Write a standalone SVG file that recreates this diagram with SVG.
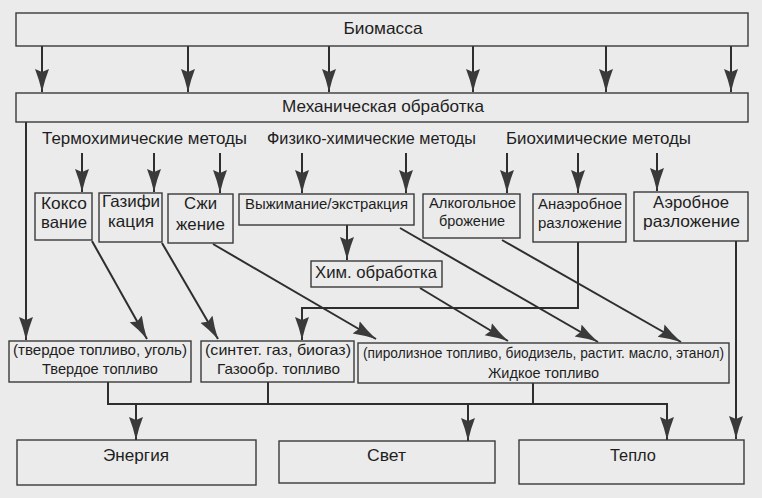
<svg xmlns="http://www.w3.org/2000/svg" width="762" height="498" viewBox="0 0 762 498">
<style>
.box{fill:none;stroke:#3a3a3a;stroke-width:1.4}
.ln{fill:none;stroke:#2e2e2e;stroke-width:2}
.ar{marker-end:url(#arr)}
text{font-family:"Liberation Sans",Arial,sans-serif;fill:#1e1e1e;font-size:16.5px;text-anchor:middle}
.big{font-size:16.5px}
.sm{font-size:15.5px}
.xs{font-size:14.5px}
</style>
<defs>
<marker id="arr" markerUnits="userSpaceOnUse" markerWidth="24" markerHeight="16" refX="23" refY="7.5" orient="auto">
<path d="M0,0.5 Q10,4.5 23,7.5 Q10,10.5 0,14.5 L3,7.5 Z" fill="#3a3a3a"/>
</marker>
</defs>
<rect x="0" y="0" width="762" height="498" fill="#ebebeb"/>

<g id="connectors">
<line class="ln ar" x1="42" y1="46" x2="42" y2="92"/>
<line class="ln ar" x1="188" y1="46" x2="188" y2="92"/>
<line class="ln ar" x1="329" y1="46" x2="329" y2="92"/>
<line class="ln ar" x1="473" y1="46" x2="473" y2="92"/>
<line class="ln ar" x1="606" y1="46" x2="606" y2="92"/>
<line class="ln ar" x1="731" y1="46" x2="731" y2="92"/>
<line class="ln ar" x1="26" y1="122" x2="26" y2="340"/>
<line class="ln ar" x1="82" y1="153" x2="82" y2="192"/>
<line class="ln ar" x1="154" y1="153" x2="154" y2="192"/>
<line class="ln ar" x1="220" y1="153" x2="220" y2="193"/>
<line class="ln ar" x1="302" y1="153" x2="302" y2="193"/>
<line class="ln ar" x1="406" y1="153" x2="406" y2="193"/>
<line class="ln ar" x1="507" y1="153" x2="507" y2="193"/>
<line class="ln ar" x1="578" y1="153" x2="578" y2="193"/>
<line class="ln ar" x1="657" y1="153" x2="657" y2="191"/>
<line class="ln ar" x1="347" y1="225" x2="347" y2="260"/>
<line class="ln ar" x1="92" y1="241" x2="147" y2="339"/>
<line class="ln ar" x1="162" y1="243" x2="218" y2="339"/>
<line class="ln ar" x1="213" y1="244" x2="376" y2="339"/>
<line class="ln ar" x1="420" y1="288" x2="508" y2="341"/>
<line class="ln ar" x1="400" y1="228" x2="598" y2="342"/>
<line class="ln ar" x1="502" y1="240" x2="681" y2="342"/>
<polyline class="ln ar" points="578,242 578,308 302,308 302,340"/>
<line class="ln ar" x1="736" y1="241" x2="736" y2="439"/>
<line class="ln" x1="108" y1="382" x2="108" y2="404"/>
<line class="ln" x1="268" y1="382" x2="268" y2="404"/>
<line class="ln" x1="533" y1="383" x2="533" y2="404"/>
<line class="ln" x1="107" y1="404" x2="668" y2="404"/>
<line class="ln ar" x1="136" y1="404" x2="136" y2="440"/>
<line class="ln ar" x1="468" y1="404" x2="468" y2="441"/>
<line class="ln ar" x1="667" y1="403" x2="667" y2="440"/>
</g>

<g id="biomass"><rect class="box" x="16" y="13" width="732" height="33"/><text class="big" x="383" y="34" textLength="79" lengthAdjust="spacingAndGlyphs">Биомасса</text></g>
<g id="mech"><rect class="box" x="16" y="93" width="732" height="29"/><text class="big" x="383" y="112" textLength="202" lengthAdjust="spacingAndGlyphs">Механическая обработка</text></g>
<g id="label-thermo"><text class="big" x="144.5" y="144" textLength="205" lengthAdjust="spacingAndGlyphs">Термохимические методы</text></g>
<g id="label-phys"><text class="big" x="371.5" y="144" textLength="209" lengthAdjust="spacingAndGlyphs">Физико-химические методы</text></g>
<g id="label-bio"><text class="big" x="598.5" y="144" textLength="185" lengthAdjust="spacingAndGlyphs">Биохимические методы</text></g>

<g id="koks"><rect class="box" x="35" y="193" width="57" height="47"/><text x="64" y="209" textLength="46" lengthAdjust="spacingAndGlyphs">Коксо</text><text x="64" y="228" textLength="46" lengthAdjust="spacingAndGlyphs">вание</text></g>
<g id="gaz"><rect class="box" x="99" y="193" width="63" height="49"/><text x="131" y="207" textLength="58" lengthAdjust="spacingAndGlyphs">Газифи</text><text x="131" y="227" textLength="46" lengthAdjust="spacingAndGlyphs">кация</text></g>
<g id="szh"><rect class="box" x="168" y="194" width="65" height="49"/><text x="200.5" y="209" textLength="33" lengthAdjust="spacingAndGlyphs">Сжи</text><text x="200.5" y="230" textLength="49" lengthAdjust="spacingAndGlyphs">жение</text></g>
<g id="vyzh"><rect class="box" x="239" y="194" width="175" height="31"/><text class="sm" x="326.5" y="209" textLength="163" lengthAdjust="spacingAndGlyphs">Выжимание/экстракция</text></g>
<g id="alk"><rect class="box" x="423" y="194" width="97" height="44"/><text class="sm" x="472.5" y="208" textLength="87" lengthAdjust="spacingAndGlyphs">Алкогольное</text><text class="sm" x="472" y="226" textLength="66" lengthAdjust="spacingAndGlyphs">брожение</text></g>
<g id="anaer"><rect class="box" x="533" y="194" width="93" height="48"/><text class="sm" x="580" y="209" textLength="84" lengthAdjust="spacingAndGlyphs">Анаэробное</text><text class="sm" x="580" y="228" textLength="84" lengthAdjust="spacingAndGlyphs">разложение</text></g>
<g id="aer"><rect class="box" x="634" y="192" width="114" height="49"/><text class="big" x="691" y="208" textLength="76" lengthAdjust="spacingAndGlyphs">Аэробное</text><text class="big" x="691.5" y="227" textLength="97" lengthAdjust="spacingAndGlyphs">разложение</text></g>
<g id="him"><rect class="box" x="311" y="261" width="131" height="26"/><text x="376" y="278" textLength="122" lengthAdjust="spacingAndGlyphs">Хим. обработка</text></g>

<g id="solid"><rect class="box" x="9" y="341" width="182" height="41"/><text class="xs" x="100" y="355" textLength="174" lengthAdjust="spacingAndGlyphs">(твердое топливо, уголь)</text><text class="xs" x="100" y="374" textLength="116" lengthAdjust="spacingAndGlyphs">Твердое топливо</text></g>
<g id="gasfuel"><rect class="box" x="201" y="341" width="153" height="41"/><text class="xs" x="278" y="355" textLength="146" lengthAdjust="spacingAndGlyphs">(синтет. газ, биогаз)</text><text class="xs" x="278.5" y="374" textLength="123" lengthAdjust="spacingAndGlyphs">Газообр. топливо</text></g>
<g id="liquid"><rect class="box" x="358" y="343" width="371" height="40"/><text class="xs" x="543.5" y="358" textLength="361" lengthAdjust="spacingAndGlyphs">(пиролизное топливо, биодизель, растит. масло, этанол)</text><text class="xs" x="543.5" y="378" textLength="111" lengthAdjust="spacingAndGlyphs">Жидкое топливо</text></g>

<g id="energy"><rect class="box" x="17" y="440" width="239" height="45"/><text class="big" x="136" y="461" textLength="66" lengthAdjust="spacingAndGlyphs">Энергия</text></g>
<g id="light"><rect class="box" x="279" y="441" width="216" height="42"/><text class="big" x="386.5" y="461" textLength="39" lengthAdjust="spacingAndGlyphs">Свет</text></g>
<g id="heat"><rect class="box" x="519" y="440" width="225" height="44"/><text class="big" x="633" y="461" textLength="46" lengthAdjust="spacingAndGlyphs">Тепло</text></g>
</svg>
